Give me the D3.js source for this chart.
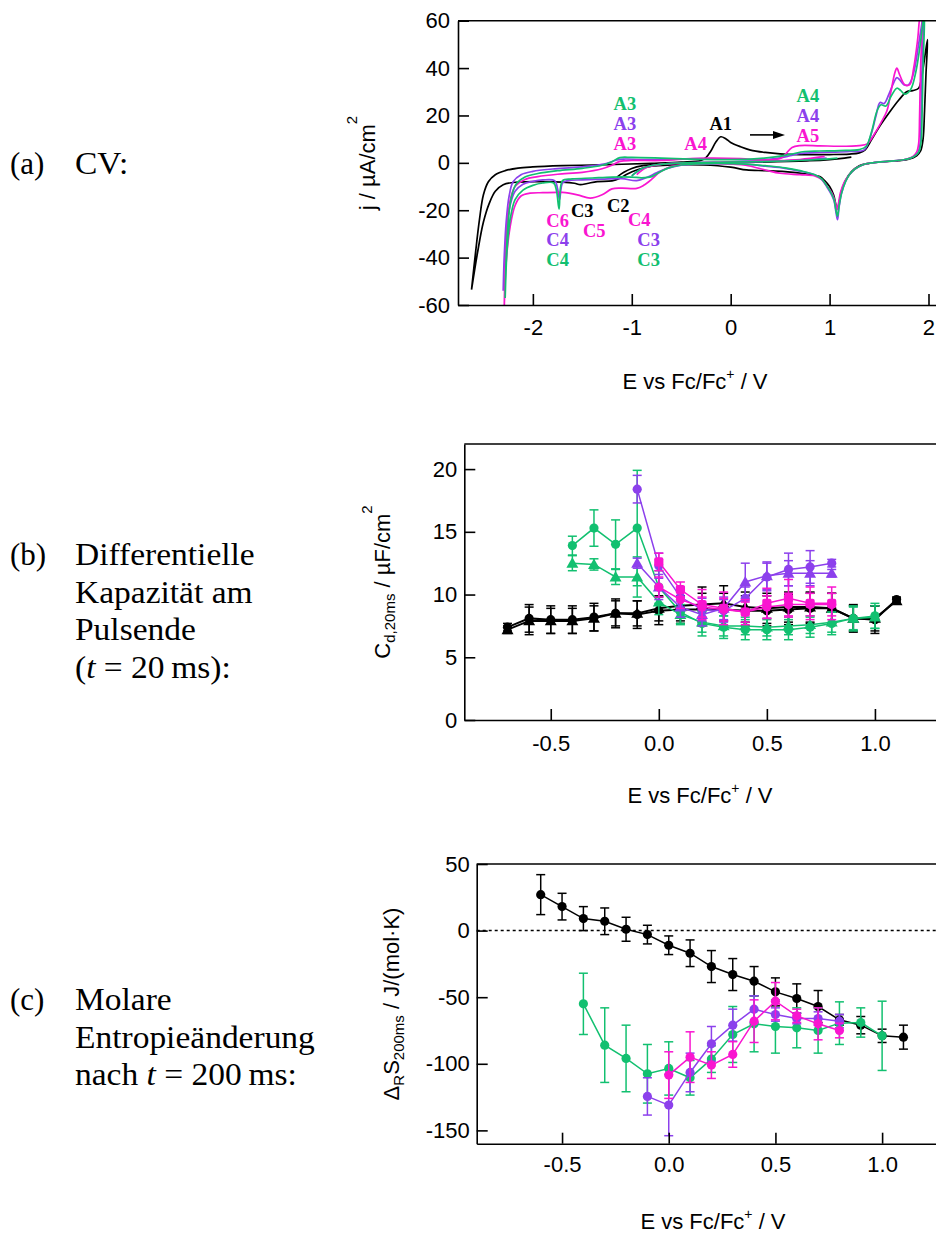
<!DOCTYPE html>
<html>
<head>
<meta charset="utf-8">
<script src="https://cdn.jsdelivr.net/npm/d3@7"></script>
<style>
  body { margin: 0; background: #fff; }
  svg { display: block; }
</style>
</head>
<body>
<svg id="fig" width="936" height="1235"></svg>
<script>
// ---------------- (a) cyclic voltammograms: [E / V, j / µA cm^-2] ----------------
const cvBlackLoop = [
  [-2.62,-53.5],[-2.58,-38],[-2.54,-24],[-2.50,-13.5],[-2.45,-8],[-2.38,-5],[-2.28,-3.3],[-2.15,-2.2],
  [-2.0,-1.7],[-1.7,-1.2],[-1.4,-0.9],[-1.1,-0.6],[-0.8,-0.2],[-0.5,0.3],[-0.3,1.0],[-0.25,2.2],
  [-0.2,5],[-0.15,8.8],[-0.1,11.0],[-0.05,10.2],[0.0,8.6],[0.1,6.8],[0.2,5.4],[0.35,4.4],[0.5,3.8],
  [0.7,3.5],[1.0,3.5],[1.2,3.7],[1.3,4.2],[1.36,5.5],[1.42,9.5],[1.5,15],[1.6,21],[1.7,26.5],
  [1.78,30],[1.84,30.5],[1.9,31.5],[1.93,36],[1.96,44],[1.99,52],
  [1.975,38],[1.96,22],[1.945,10],[1.92,5],[1.88,3],[1.8,1.5],[1.7,0.9],[1.5,0.3],[1.4,-0.2],
  [1.3,-1.2],[1.22,-3.8],[1.16,-7.5],[1.12,-12],[1.09,-18],[1.075,-19.5],[1.06,-17],[1.04,-13.5],
  [1.0,-10],[0.95,-7.5],[0.9,-5.8],[0.75,-4.6],[0.55,-3.7],[0.35,-3.3],[0.16,-3.0],[0.0,-1.8],
  [-0.28,-0.9],[-0.6,-0.9],[-0.8,-1.4],[-0.95,-3.0],[-1.05,-4.8],[-1.12,-6.5],[-1.2,-7.6],
  [-1.35,-7.9],[-1.45,-8.7],[-1.52,-9.2],[-1.58,-8.6],[-1.7,-8.1],[-1.9,-7.9],[-2.15,-8.1],
  [-2.3,-9.2],[-2.38,-12],[-2.44,-17],[-2.5,-25],[-2.56,-38],[-2.62,-53.5]
];
const cvBlackStart = [
  [-1.15,-6.0],[-1.08,-4.0],[-1.0,-2.4],[-0.9,-1.3],[-0.7,-0.6],[-0.4,-0.2],[0,0.1],
  [0.4,0.4],[0.8,0.9],[1.0,1.4],[1.15,2.0],[1.22,2.4]
];
const cvPurpleLoop = [
  [-2.30,-54],[-2.29,-40],[-2.27,-25],[-2.24,-14],[-2.2,-8],[-2.12,-5],[-2.0,-3.6],[-1.8,-2.6],
  [-1.6,-2.0],[-1.4,-1.3],[-1.25,-0.2],[-1.15,1.2],[-1.08,1.6],[-0.9,1.4],[-0.6,1.5],[-0.3,1.8],
  [0,1.6],[0.2,1.2],[0.45,1.8],[0.6,3.0],[0.7,4.0],[0.85,4.3],[1.0,4.5],[1.2,4.8],[1.35,5.5],
  [1.42,12],[1.47,20],[1.51,25.5],[1.55,25],[1.6,29],[1.65,34],[1.68,36],[1.71,35],[1.75,33],
  [1.8,33],[1.85,38],[1.9,50],[1.93,58],[1.95,64],
  [1.935,40],[1.925,20],[1.915,8],[1.89,4],[1.846,2.6],[1.75,1.3],[1.6,0.7],[1.45,0.1],
  [1.35,-0.6],[1.26,-2.5],[1.2,-5],[1.16,-7.9],[1.12,-13],[1.095,-19],[1.08,-24],[1.065,-21],
  [1.045,-16],[1.02,-13.5],[0.97,-10],[0.92,-7],[0.85,-5],[0.7,-3.5],[0.55,-2.3],[0.35,-1.4],
  [0.15,-0.6],[-0.1,-0.3],[-0.35,-0.5],[-0.5,-1],[-0.65,-2.5],[-0.75,-4.2],[-0.85,-6.2],
  [-0.95,-7.5],[-1.1,-6.7],[-1.3,-6.9],[-1.5,-7.2],[-1.65,-7.5],[-1.7,-8.5],[-1.73,-15.5],
  [-1.75,-11],[-1.78,-7.5],[-1.9,-7.2],[-2.0,-7.8],[-2.1,-9.0],[-2.18,-12],[-2.23,-18],
  [-2.27,-30],[-2.30,-54]
];
const cvPurpleStart = [
  [-1.0,-5.5],[-0.9,-2.5],[-0.75,-0.8],[-0.45,0],[0,0.3],[0.4,0.7],[0.7,1.2],[0.97,2.0]
];
const cvPinkLoop = [
  [-2.29,-62],[-2.28,-45],[-2.26,-28],[-2.23,-16],[-2.18,-10],[-2.08,-7],[-1.95,-5.8],[-1.75,-4.8],
  [-1.5,-4],[-1.3,-2.5],[-1.2,-1],[-1.12,0.6],[-1.0,1.0],[-0.7,1.0],[-0.4,1.8],[-0.2,2.0],
  [0.1,1.8],[0.35,1.2],[0.5,1.8],[0.55,3.5],[0.62,6.5],[0.7,7.3],[0.9,7.2],[1.1,7.0],[1.3,7.3],
  [1.38,8],[1.45,12],[1.52,17],[1.58,22],[1.62,30],[1.66,38],[1.68,40],[1.71,37],[1.76,33],
  [1.81,33],[1.85,40],[1.89,52],[1.915,62],[1.935,64],
  [1.92,40],[1.91,20],[1.9,8],[1.88,4.5],[1.84,2.6],[1.75,1.3],[1.6,0.7],[1.45,0.1],[1.35,-0.6],
  [1.26,-2.5],[1.2,-5],[1.15,-8],[1.11,-12.5],[1.09,-17],[1.078,-19.8],[1.065,-18],[1.045,-15],
  [1.02,-12.5],[0.97,-9.6],[0.92,-7],[0.85,-5.5],[0.7,-5],[0.5,-4.4],[0.35,-3],[0.15,-1],
  [-0.1,-0.3],[-0.3,-0.3],[-0.5,-0.8],[-0.62,-1.8],[-0.72,-4],[-0.8,-7],[-0.88,-9.5],
  [-0.95,-10.8],[-1.1,-10.7],[-1.2,-11],[-1.3,-13.5],[-1.42,-14.9],[-1.55,-13.5],[-1.7,-12.5],
  [-1.9,-12.6],[-2.03,-12.8],[-2.12,-14],[-2.18,-18],[-2.23,-27],[-2.27,-42],[-2.29,-62]
];
const cvPinkStart = [
  [-0.95,-5.0],[-0.85,-2.0],[-0.7,-0.6],[-0.4,0],[0,0.3],[0.4,0.8],[0.7,1.4],[0.95,2.7]
];
const cvGreenLoop = [
  [-2.28,-57],[-2.27,-40],[-2.25,-25],[-2.22,-15],[-2.17,-9],[-2.08,-6],[-1.95,-4.5],[-1.75,-3.3],
  [-1.5,-2.3],[-1.3,-1.0],[-1.2,0.5],[-1.12,2.2],[-1.0,2.3],[-0.7,2.0],[-0.4,1.6],[-0.1,1.4],
  [0.2,1.6],[0.45,2.5],[0.6,3.6],[0.75,4.8],[0.9,5.0],[1.1,5.2],[1.3,5.6],[1.37,7],[1.43,14],
  [1.48,22],[1.52,24.5],[1.57,24],[1.62,28],[1.68,31.5],[1.72,30.5],[1.76,29],[1.82,31],
  [1.87,38],[1.91,48],[1.94,58],[1.96,64],
  [1.945,40],[1.935,20],[1.925,9],[1.9,4.5],[1.85,2.6],[1.75,1.3],[1.6,0.7],[1.45,0.1],
  [1.35,-0.6],[1.26,-2.5],[1.2,-5],[1.16,-8],[1.12,-13],[1.095,-18.5],[1.08,-22.5],[1.065,-20],
  [1.045,-15.5],[1.02,-13],[0.97,-9.6],[0.92,-6.8],[0.85,-5],[0.7,-3.3],[0.55,-2.1],[0.35,-1.2],
  [0.15,-0.5],[-0.1,-0.2],[-0.35,-0.4],[-0.5,-0.9],[-0.62,-2.0],[-0.72,-4.0],[-0.8,-5.8],
  [-0.9,-6.3],[-1.0,-6.0],[-1.2,-6.0],[-1.4,-6.4],[-1.6,-6.8],[-1.7,-7.5],[-1.735,-19.5],
  [-1.76,-12],[-1.79,-8.5],[-1.9,-8.5],[-2.0,-9.5],[-2.1,-11.5],[-2.18,-15.5],[-2.23,-24],
  [-2.26,-36],[-2.28,-57]
];
const cvGreenStart = [
  [-1.0,-5.5],[-0.9,-2.5],[-0.75,-0.8],[-0.45,0],[0,0.3],[0.4,0.6],[0.8,1.2],[1.08,2.0]
];

// peak labels: text, colour key, E, j (baseline)
const cvLabelText  = ["A3","A3","A3","A1","A4","A4","A4","A5","C3","C2","C6","C4","C4","C5","C4","C3","C3"];
const cvLabelColor = ["green","purple","pink","black","pink","green","purple","pink","black","black","pink","purple","green","pink","pink","purple","green"];
const cvLabelE     = [-1.07,-1.07,-1.07,-0.10,-0.354,0.78,0.78,0.78,-1.50,-1.137,-1.75,-1.75,-1.75,-1.38,-0.924,-0.83,-0.83];
const cvLabelJ     = [22.2,13.7,5.6,14.0,5.6,25.7,17.2,8.8,-22.8,-20.7,-27.0,-35.2,-43.6,-31.3,-26.7,-35.2,-43.6];
const cvArrowE = [0.195, 0.549];
const cvArrowJ = 11.8;

// ---------------- (b) differential capacitance after 20 ms / µF cm^-2 ----------------
const capE_black = [-0.7,-0.6,-0.5,-0.4,-0.3,-0.2,-0.1,0.0,0.1,0.2,0.3,0.4,0.5,0.6,0.7,0.8,0.9,1.0,1.1];
const capBlackCircle      = [7.4,8.1,8.0,8.0,8.2,8.5,8.4,8.7,8.8,8.8,8.8,8.7,8.7,8.8,8.9,8.9,8.1,8.0,9.6];
const capBlackCircleErr   = [0.3,1.1,1.1,1.1,1.1,1.15,1.1,1.1,1.1,1.3,1.3,1.2,1.2,1.2,1.2,1.2,1.1,1.1,0.2];
const capBlackTriangle    = [7.2,7.9,7.9,7.9,8.1,8.5,8.5,8.9,9.1,9.2,9.3,9.0,8.9,9.0,9.0,8.9,8.1,8.1,9.5];
const capBlackTriangleErr = [0.3,1.1,1.0,1.0,1.0,1.0,1.0,1.0,1.2,1.4,1.4,1.2,1.2,1.2,1.2,1.2,1.0,1.0,0.2];

const capE_green = [-0.4,-0.3,-0.2,-0.1,0.0,0.1,0.2,0.3,0.4,0.5,0.6,0.7,0.8,0.9,1.0];
const capGreenCircle      = [13.9,15.3,14.0,15.3,10.6,8.6,7.7,7.4,7.2,7.2,7.2,7.4,7.7,8.1,8.3];
const capGreenCircleErr   = [0.75,1.45,1.95,4.6,1.3,0.9,1.0,0.9,0.8,0.8,0.8,0.8,0.9,1.0,1.0];
const capGreenTriangle    = [12.5,12.4,11.4,11.4,9.4,8.4,7.8,7.5,7.5,7.4,7.5,7.6,7.8,8.1,8.2];
const capGreenTriangleErr = [0.6,0.45,0.6,1.6,1.0,0.8,0.8,0.8,0.7,0.7,0.7,0.7,0.8,0.9,0.9];

const capE_purple = [-0.1,0.0,0.1,0.2,0.3,0.4,0.5,0.6,0.7,0.8];
const capPurpleCircle      = [18.4,12.3,9.8,8.8,8.7,9.7,11.4,12.0,12.2,12.5];
const capPurpleCircleErr   = [1.1,1.0,0.8,0.9,0.9,0.9,1.1,1.3,1.3,0.3];
const capPurpleTriangle    = [12.5,10.6,9.0,8.4,8.9,11.0,11.5,11.7,11.7,11.7];
const capPurpleTriangleErr = [0.4,1.0,0.8,0.9,0.9,1.5,1.1,1.0,1.0,0.3];

const capE_pink = [0.0,0.1,0.2,0.3,0.4,0.5,0.6,0.7,0.8];
const capPinkSquare    = [12.6,10.4,9.2,8.9,8.6,9.3,9.7,9.3,9.3];
const capPinkSquareErr = [0.7,0.6,1.2,1.3,1.0,1.2,1.5,1.3,1.3];
const capPinkCircle    = [10.6,9.6,9.0,8.8,8.6,9.0,9.2,9.2,9.2];
const capPinkCircleErr = [0.8,0.7,0.8,0.9,0.8,0.9,0.9,0.9,0.9];

// ---------------- (c) molar reaction entropy after 200 ms / J mol^-1 K^-1 ----------------
const entE_black = [-0.6,-0.5,-0.4,-0.3,-0.2,-0.1,0.0,0.1,0.2,0.3,0.4,0.5,0.6,0.7,0.8,0.9,1.0,1.1];
const entBlack    = [27,18,9,7,1,-3,-11,-17,-27,-33,-38,-46,-51,-57,-67,-71,-79,-80];
const entBlackErr = [15,10,9,10,9,7,7,10,12,12,11,10.5,11,12,4,6.5,5,9];

const entE_green = [-0.4,-0.3,-0.2,-0.1,0.0,0.1,0.2,0.3,0.4,0.5,0.6,0.7,0.8,0.9,1.0];
const entGreen    = [-55,-86,-96,-107.5,-103.5,-110.5,-96.5,-78,-70,-72,-73,-75,-69.5,-69,-79];
const entGreenErr = [23,28,25,22,20,13,10,21,21,20,15,17,16,11,26];

const entE_purple = [-0.1,0.0,0.1,0.2,0.3,0.4,0.5,0.6,0.7,0.8];
const entPurple    = [-124.5,-131,-106.5,-85,-71,-59,-63,-66,-66,-68];
const entPurpleErr = [14,23,14.5,13,12,10,5,4,5,5];

const entE_pink = [0.0,0.1,0.2,0.3,0.4,0.5,0.6,0.7,0.8];
const entPink    = [-108.5,-95,-101,-93,-68,-53,-64,-70,-75];
const entPinkErr = [17.5,19,10,9.6,16,14,5,12,5.5];

// tick values
const cvTicksX = [-2,-1,0,1,2];
const cvTicksY = [-60,-40,-20,0,20,40,60];
const capTicksX = [-0.5,0,0.5,1.0];
const capTicksY = [0,5,10,15,20];
const entTicksX = [-0.5,0,0.5,1.0];
const entTicksY = [-150,-100,-50,0,50];

// ---------------- drawing ----------------
const SANS = "'Liberation Sans', Arial, sans-serif";
const SERIF = "'Liberation Serif', 'Times New Roman', serif";
const COL = { black: "#000000", purple: "#8c40ec", pink: "#f915d0", green: "#12c070" };

const svg = d3.select("#fig");
svg.append("rect").attr("width", 936).attr("height", 1235).attr("fill", "#fff");

function drawAxes(x, y, xt, yt, xfmt, yfmt, xpad, ypad) {
  const g = svg.append("g");
  const gx = g.append("g").attr("transform", `translate(0,${y.range()[0]})`)
    .call(d3.axisBottom(x).tickValues(xt).tickFormat(xfmt).tickSizeInner(-11).tickSizeOuter(0).tickPadding(xpad));
  const gy = g.append("g").attr("transform", `translate(${x.range()[0]},0)`)
    .call(d3.axisLeft(y).tickValues(yt).tickFormat(yfmt).tickSizeInner(-11).tickSizeOuter(0).tickPadding(ypad));
  [gx, gy].forEach(a => {
    a.attr("font-family", SANS).attr("font-size", 22);
    a.selectAll("path,line").attr("stroke", "#000").attr("stroke-width", 1.6);
    a.selectAll("text").attr("fill", "#000");
  });
  g.append("line")
    .attr("x1", x.range()[0]).attr("x2", x.range()[1])
    .attr("y1", y.range()[1]).attr("y2", y.range()[1])
    .attr("stroke", "#000").attr("stroke-width", 1.6);
  return g;
}

function xTitle(cx, by) {
  const t = svg.append("text").attr("x", cx).attr("y", by).attr("text-anchor", "middle")
    .attr("font-family", SANS).attr("font-size", 22).attr("fill", "#000");
  t.append("tspan").text("E vs Fc/Fc");
  t.append("tspan").attr("font-size", 14).attr("dy", -10).text("+");
  t.append("tspan").attr("dy", 10).text(" / V");
}

function yTitle(bx, cy, parts) {
  const t = svg.append("text").attr("transform", `translate(${bx},${cy}) rotate(-90)`)
    .attr("text-anchor", "middle").attr("font-family", SANS).attr("font-size", 22).attr("fill", "#000");
  parts.forEach(p => {
    const s = t.append("tspan").text(p[0]);
    if (p[1]) s.attr("font-size", p[1]);
    if (p[2]) s.attr("dy", p[2]);
  });
}

function clipRect(id, x, y) {
  svg.append("clipPath").attr("id", id).append("rect")
    .attr("x", x.range()[0]).attr("y", y.range()[1])
    .attr("width", x.range()[1] - x.range()[0]).attr("height", y.range()[0] - y.range()[1]);
}

const fmtInt = d => String(d);
const fmt1 = d => d.toFixed(1);

// ---- panel (a): CV ----
const xA = d3.scaleLinear().domain([-2.757, 2.3]).range([458, 730.7 + 2.3 * 98.9]);
const yA = d3.scaleLinear().domain([-60, 60]).range([305, 20.7]);
clipRect("clipA", xA, yA);
const cvLine = d3.line().x(d => xA(d[0])).y(d => yA(d[1])).curve(d3.curveCatmullRom.alpha(0.5));
const gA = svg.append("g").attr("clip-path", "url(#clipA)");
[[cvBlackLoop, cvBlackStart, "black"], [cvPurpleLoop, cvPurpleStart, "purple"],
 [cvPinkLoop, cvPinkStart, "pink"], [cvGreenLoop, cvGreenStart, "green"]].forEach(([loop, start, c]) => {
  [start, loop].forEach(pts => {
    gA.append("path").attr("d", cvLine(pts)).attr("fill", "none")
      .attr("stroke", COL[c]).attr("stroke-width", 1.7).attr("stroke-linejoin", "round");
  });
});
drawAxes(xA, yA, cvTicksX, cvTicksY, fmtInt, fmtInt, 14, 8);
xTitle(695, 389);
yTitle(375, 163, [["j / µA/cm"], ["2", 15, -18]]);

// peak labels
const gLab = svg.append("g").attr("font-family", SERIF).attr("font-weight", "bold").attr("font-size", 18.5)
  .attr("text-anchor", "middle");
cvLabelText.forEach((t, i) => {
  gLab.append("text").attr("x", xA(cvLabelE[i])).attr("y", yA(cvLabelJ[i]))
    .attr("fill", COL[cvLabelColor[i]]).text(t);
});
// scan direction arrow
{
  const x1 = xA(cvArrowE[0]), x2 = xA(cvArrowE[1]), yy = yA(cvArrowJ);
  svg.append("line").attr("x1", x1).attr("x2", x2 - 10).attr("y1", yy).attr("y2", yy)
    .attr("stroke", "#000").attr("stroke-width", 1.6);
  svg.append("path").attr("d", `M${x2},${yy} L${x2 - 12},${yy - 4} L${x2 - 12},${yy + 4} Z`).attr("fill", "#000");
}

// ---- error-bar series helper ----
function markerPath(kind) {
  if (kind === "triangle") return d3.symbol().type(d3.symbolTriangle).size(62)();
  return null;
}
function drawSeries(g, x, y, E, v, err, color, marker, lw) {
  const pts = E.map((e, i) => ({ E: e, v: v[i], err: err[i] }));
  g.append("path").datum(pts)
    .attr("d", d3.line().x(d => x(d.E)).y(d => y(d.v)))
    .attr("fill", "none").attr("stroke", color).attr("stroke-width", lw);
  const eb = g.append("g").attr("stroke", color).attr("stroke-width", 1.5);
  pts.forEach(d => {
    const xx = x(d.E), y1 = y(d.v + d.err), y2 = y(d.v - d.err);
    eb.append("line").attr("x1", xx).attr("x2", xx).attr("y1", y1).attr("y2", y2);
    eb.append("line").attr("x1", xx - 4.5).attr("x2", xx + 4.5).attr("y1", y1).attr("y2", y1);
    eb.append("line").attr("x1", xx - 4.5).attr("x2", xx + 4.5).attr("y1", y2).attr("y2", y2);
  });
  const mk = g.append("g").attr("fill", color);
  pts.forEach(d => {
    const xx = x(d.E), yy = y(d.v);
    if (marker === "circle") mk.append("circle").attr("cx", xx).attr("cy", yy).attr("r", 4.6);
    else if (marker === "square") mk.append("rect").attr("x", xx - 4.6).attr("y", yy - 4.6)
      .attr("width", 9.2).attr("height", 9.2).attr("rx", 2);
    else mk.append("path").attr("d", markerPath(marker)).attr("transform", `translate(${xx},${yy + 1})`);
  });
}

// ---- panel (b): capacitance ----
const xB = d3.scaleLinear().domain([-0.9, 1.4]).range([464.3, 658.7 + 1.4 * 216.2]);
const yB = d3.scaleLinear().domain([0, 22]).range([720, 444]);
const gB = svg.append("g");
drawSeries(gB, xB, yB, capE_black, capBlackTriangle, capBlackTriangleErr, COL.black, "triangle", 2);
drawSeries(gB, xB, yB, capE_black, capBlackCircle, capBlackCircleErr, COL.black, "circle", 2);
drawSeries(gB, xB, yB, capE_green, capGreenTriangle, capGreenTriangleErr, COL.green, "triangle", 1.5);
drawSeries(gB, xB, yB, capE_green, capGreenCircle, capGreenCircleErr, COL.green, "circle", 1.5);
drawSeries(gB, xB, yB, capE_purple, capPurpleTriangle, capPurpleTriangleErr, COL.purple, "triangle", 1.5);
drawSeries(gB, xB, yB, capE_purple, capPurpleCircle, capPurpleCircleErr, COL.purple, "circle", 1.5);
drawSeries(gB, xB, yB, capE_pink, capPinkCircle, capPinkCircleErr, COL.pink, "circle", 1.5);
drawSeries(gB, xB, yB, capE_pink, capPinkSquare, capPinkSquareErr, COL.pink, "square", 1.5);
drawAxes(xB, yB, capTicksX, capTicksY, fmt1, fmtInt, 15, 7);
xTitle(700, 803);
yTitle(390, 582, [["C"], ["d,20ms", 15, 5], [" / µF/cm", null, -5], ["2", 15, -18]]);

// ---- panel (c): entropy ----
const xC = d3.scaleLinear().domain([-0.9, 1.4]).range([476.7, 668.7 + 1.4 * 213.4]);
const yC = d3.scaleLinear().domain([-160, 50]).range([1143.7, 864]);
svg.append("line").attr("x1", xC.range()[0]).attr("x2", xC.range()[1])
  .attr("y1", yC(0)).attr("y2", yC(0))
  .attr("stroke", "#000").attr("stroke-width", 1.5).attr("stroke-dasharray", "3,3");
const gC = svg.append("g");
drawSeries(gC, xC, yC, entE_black, entBlack, entBlackErr, COL.black, "circle", 1.5);
drawSeries(gC, xC, yC, entE_green, entGreen, entGreenErr, COL.green, "circle", 1.5);
drawSeries(gC, xC, yC, entE_purple, entPurple, entPurpleErr, COL.purple, "circle", 1.5);
drawSeries(gC, xC, yC, entE_pink, entPink, entPinkErr, COL.pink, "circle", 1.5);
drawAxes(xC, yC, entTicksX, entTicksY, fmt1, fmtInt, 13, 7);
xTitle(713, 1229);
yTitle(399, 1004, [["Δ"], ["R", 15, 5], ["S", null, -5], ["200ms", 15, 5], [" / J/(mol·K)", null, -5]]);

// ---- captions on the left ----
const captions = [
  { tag: "(a)", y0: 173.5, lines: [[["CV:", false]]] },
  { tag: "(b)", y0: 565, lines: [
      [["Differentielle", false]],
      [["Kapazität am", false]],
      [["Pulsende", false]],
      [["(", false], ["t", true], [" = 20\u2009ms):", false]]
  ] },
  { tag: "(c)", y0: 1010, lines: [
      [["Molare", false]],
      [["Entropieänderung", false]],
      [["nach ", false], ["t", true], [" = 200\u2009ms:", false]]
  ] }
];
const gCap = svg.append("g").attr("font-family", SERIF).attr("font-size", 31).attr("fill", "#000");
captions.forEach(c => {
  gCap.append("text").attr("x", 10).attr("y", c.y0).text(c.tag);
  c.lines.forEach((ln, i) => {
    const t = gCap.append("text").attr("x", 75).attr("y", c.y0 + i * 37.5);
    ln.forEach(([s, it]) => {
      const sp = t.append("tspan").text(s);
      if (it) sp.attr("font-style", "italic");
    });
    // widen slightly toward the broader book face used in the printed layout
    const w = t.node().getComputedTextLength();
    t.attr("textLength", w * 1.08).attr("lengthAdjust", "spacingAndGlyphs");
  });
});
</script>
</body>
</html>
